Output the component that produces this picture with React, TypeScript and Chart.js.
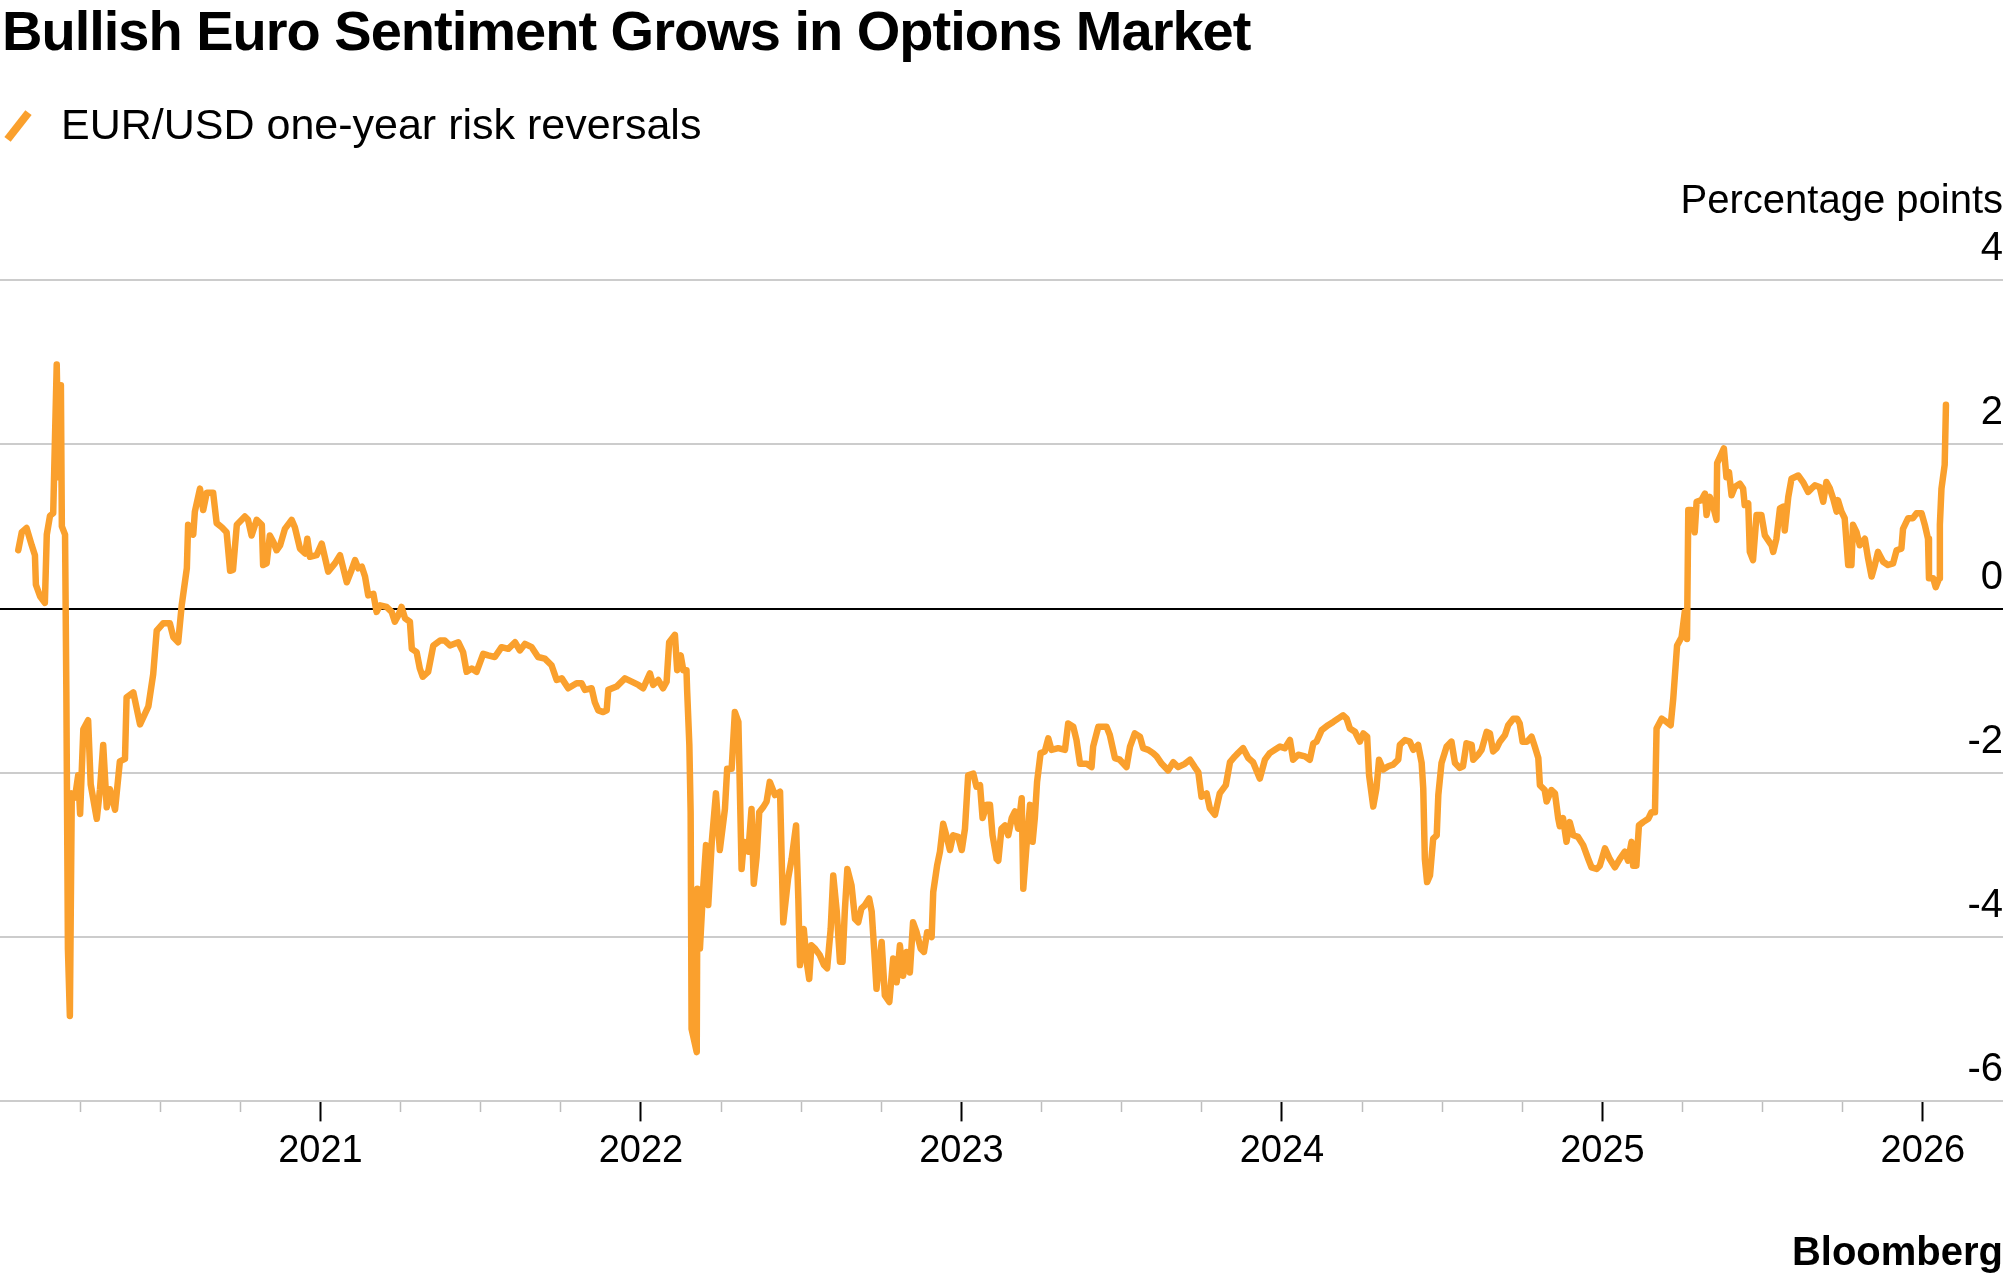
import React, { useEffect, useRef } from 'react';
import { Chart, registerables } from 'chart.js';

Chart.register(...registerables);

const TITLE = 'Bullish Euro Sentiment Grows in Options Market';
const SERIES_LABEL = 'EUR/USD one-year risk reversals';
const UNIT_LABEL = 'Percentage points';
const SOURCE = 'Bloomberg';

const dates = [
  2020.057, 2020.068, 2020.083, 2020.099, 2020.109, 2020.112, 2020.125, 2020.140, 2020.146, 2020.156,
  2020.166, 2020.177, 2020.183, 2020.190, 2020.193, 2020.203, 2020.207, 2020.212, 2020.218, 2020.224,
  2020.234, 2020.244, 2020.250, 2020.260, 2020.275, 2020.283, 2020.302, 2020.312, 2020.322, 2020.333,
  2020.343, 2020.359, 2020.374, 2020.390, 2020.395, 2020.416, 2020.437, 2020.463, 2020.478, 2020.489,
  2020.509, 2020.530, 2020.541, 2020.556, 2020.567, 2020.583, 2020.587, 2020.603, 2020.608, 2020.624,
  2020.634, 2020.645, 2020.665, 2020.676, 2020.692, 2020.707, 2020.718, 2020.727, 2020.739, 2020.764,
  2020.774, 2020.785, 2020.801, 2020.817, 2020.821, 2020.832, 2020.842, 2020.853, 2020.863, 2020.874,
  2020.889, 2020.910, 2020.920, 2020.936, 2020.952, 2020.959, 2020.967, 2020.988, 2021.004, 2021.024,
  2021.045, 2021.061, 2021.082, 2021.097, 2021.108, 2021.118, 2021.129, 2021.139, 2021.149, 2021.165,
  2021.175, 2021.186, 2021.206, 2021.222, 2021.232, 2021.243, 2021.253, 2021.264, 2021.279, 2021.285,
  2021.300, 2021.310, 2021.319, 2021.336, 2021.352, 2021.373, 2021.388, 2021.404, 2021.430, 2021.445,
  2021.456, 2021.472, 2021.487, 2021.508, 2021.523, 2021.544, 2021.565, 2021.586, 2021.607, 2021.622,
  2021.638, 2021.659, 2021.679, 2021.700, 2021.721, 2021.737, 2021.753, 2021.773, 2021.799, 2021.815,
  2021.825, 2021.846, 2021.856, 2021.867, 2021.882, 2021.893, 2021.898, 2021.924, 2021.950, 2021.971,
  2021.992, 2022.007, 2022.028, 2022.038, 2022.054, 2022.069, 2022.080, 2022.088, 2022.106, 2022.113,
  2022.124, 2022.132, 2022.142, 2022.144, 2022.151, 2022.155, 2022.158, 2022.174, 2022.176, 2022.184,
  2022.194, 2022.203, 2022.210, 2022.221, 2022.234, 2022.246, 2022.262, 2022.269, 2022.283, 2022.293,
  2022.304, 2022.314, 2022.321, 2022.335, 2022.345, 2022.352, 2022.361, 2022.369, 2022.381, 2022.392,
  2022.402, 2022.418, 2022.434, 2022.444, 2022.459, 2022.470, 2022.484, 2022.491, 2022.496, 2022.508,
  2022.517, 2022.525, 2022.532, 2022.543, 2022.558, 2022.571, 2022.581, 2022.592, 2022.600, 2022.611,
  2022.621, 2022.629, 2022.636, 2022.644, 2022.657, 2022.668, 2022.678, 2022.688, 2022.699, 2022.712,
  2022.720, 2022.730, 2022.735, 2022.751, 2022.761, 2022.775, 2022.787, 2022.798, 2022.808, 2022.818,
  2022.829, 2022.839, 2022.849, 2022.860, 2022.873, 2022.883, 2022.893, 2022.907, 2022.912, 2022.924,
  2022.933, 2022.943, 2022.954, 2022.964, 2022.974, 2022.990, 2023.001, 2023.011, 2023.021, 2023.037,
  2023.047, 2023.058, 2023.066, 2023.079, 2023.089, 2023.097, 2023.110, 2023.115, 2023.125, 2023.136,
  2023.146, 2023.157, 2023.167, 2023.177, 2023.188, 2023.193, 2023.203, 2023.214, 2023.222, 2023.229,
  2023.236, 2023.247, 2023.260, 2023.271, 2023.281, 2023.302, 2023.323, 2023.333, 2023.349, 2023.359,
  2023.370, 2023.391, 2023.406, 2023.411, 2023.427, 2023.453, 2023.463, 2023.479, 2023.494, 2023.515,
  2023.526, 2023.541, 2023.557, 2023.567, 2023.583, 2023.598, 2023.609, 2023.625, 2023.645, 2023.661,
  2023.676, 2023.697, 2023.713, 2023.728, 2023.739, 2023.749, 2023.765, 2023.775, 2023.791, 2023.806,
  2023.825, 2023.838, 2023.853, 2023.863, 2023.879, 2023.895, 2023.910, 2023.931, 2023.947, 2023.962,
  2023.978, 2023.994, 2024.009, 2024.025, 2024.035, 2024.051, 2024.072, 2024.087, 2024.098, 2024.108,
  2024.124, 2024.144, 2024.160, 2024.175, 2024.191, 2024.202, 2024.212, 2024.228, 2024.243, 2024.254,
  2024.266, 2024.272, 2024.285, 2024.295, 2024.303, 2024.316, 2024.332, 2024.347, 2024.363, 2024.368,
  2024.384, 2024.399, 2024.410, 2024.425, 2024.436, 2024.441, 2024.446, 2024.453, 2024.462, 2024.472,
  2024.483, 2024.488, 2024.498, 2024.514, 2024.529, 2024.540, 2024.555, 2024.565, 2024.576, 2024.592,
  2024.597, 2024.612, 2024.623, 2024.639, 2024.649, 2024.659, 2024.670, 2024.680, 2024.696, 2024.706,
  2024.722, 2024.734, 2024.742, 2024.751, 2024.765, 2024.779, 2024.789, 2024.800, 2024.805, 2024.820,
  2024.826, 2024.841, 2024.852, 2024.862, 2024.867, 2024.877, 2024.888, 2024.898, 2024.909, 2024.924,
  2024.940, 2024.956, 2024.966, 2024.982, 2024.992, 2025.008, 2025.023, 2025.039, 2025.054, 2025.070,
  2025.080, 2025.091, 2025.096, 2025.106, 2025.114, 2025.127, 2025.143, 2025.153, 2025.164, 2025.169,
  2025.185, 2025.200, 2025.213, 2025.221, 2025.233, 2025.247, 2025.257, 2025.264, 2025.268, 2025.278,
  2025.288, 2025.294, 2025.309, 2025.320, 2025.325, 2025.335, 2025.346, 2025.356, 2025.358, 2025.372,
  2025.379, 2025.387, 2025.395, 2025.403, 2025.413, 2025.429, 2025.439, 2025.444, 2025.455, 2025.460,
  2025.470, 2025.481, 2025.496, 2025.507, 2025.528, 2025.533, 2025.543, 2025.554, 2025.564, 2025.569,
  2025.580, 2025.590, 2025.611, 2025.626, 2025.642, 2025.652, 2025.663, 2025.678, 2025.689, 2025.699,
  2025.710, 2025.720, 2025.731, 2025.735, 2025.746, 2025.756, 2025.767, 2025.777, 2025.782, 2025.793,
  2025.803, 2025.819, 2025.829, 2025.840, 2025.850, 2025.860, 2025.876, 2025.891, 2025.907, 2025.918,
  2025.933, 2025.938, 2025.954, 2025.969, 2025.980, 2025.996, 2026.006, 2026.016, 2026.019, 2026.032,
  2026.040, 2026.051, 2026.053, 2026.058, 2026.068, 2026.072,
];

// EUR/USD one-year 25-delta risk reversals, percentage points
const riskReversals = [
  0.71, 0.93, 0.98, 0.77, 0.65, 0.29, 0.15, 0.07, 0.90, 1.13,
  1.16, 2.97, 1.60, 2.72, 1.00, 0.90, -1.00, -4.15, -4.96, -2.25,
  -2.30, -2.03, -2.50, -1.47, -1.36, -2.14, -2.56, -2.20, -1.66, -2.42,
  -2.20, -2.45, -1.86, -1.83, -1.08, -1.02, -1.41, -1.19, -0.80, -0.27,
  -0.18, -0.18, -0.35, -0.41, 0.04, 0.49, 1.02, 0.90, 1.18, 1.46,
  1.20, 1.41, 1.41, 1.04, 0.99, 0.93, 0.46, 0.47, 1.02, 1.12,
  1.08, 0.89, 1.08, 1.02, 0.53, 0.55, 0.89, 0.81, 0.71, 0.77,
  0.97, 1.08, 0.99, 0.73, 0.67, 0.85, 0.63, 0.65, 0.79, 0.45,
  0.55, 0.65, 0.32, 0.47, 0.59, 0.49, 0.51, 0.39, 0.16, 0.18,
  -0.04, 0.04, 0.02, -0.04, -0.16, -0.08, 0.02, -0.12, -0.16, -0.49,
  -0.53, -0.73, -0.83, -0.77, -0.45, -0.39, -0.39, -0.45, -0.41, -0.53,
  -0.77, -0.73, -0.77, -0.55, -0.57, -0.59, -0.47, -0.49, -0.41, -0.51,
  -0.43, -0.47, -0.59, -0.61, -0.69, -0.87, -0.85, -0.97, -0.91, -0.91,
  -0.99, -0.97, -1.14, -1.24, -1.26, -1.24, -0.99, -0.95, -0.85, -0.89,
  -0.93, -0.97, -0.79, -0.93, -0.87, -0.97, -0.89, -0.41, -0.32, -0.75,
  -0.57, -0.75, -0.75, -0.99, -1.66, -2.48, -5.12, -5.40, -3.41, -4.14,
  -3.41, -2.88, -3.61, -2.84, -2.25, -2.94, -2.44, -1.95, -1.95, -1.26,
  -1.38, -3.17, -2.84, -2.96, -2.44, -3.35, -3.02, -2.48, -2.42, -2.35,
  -2.11, -2.27, -2.23, -3.82, -3.29, -3.05, -2.64, -3.53, -4.34, -3.90,
  -4.30, -4.51, -4.10, -4.14, -4.22, -4.34, -4.38, -3.90, -3.25, -3.69,
  -4.30, -4.30, -3.69, -3.17, -3.37, -3.78, -3.82, -3.65, -3.61, -3.53,
  -3.69, -4.30, -4.63, -4.06, -4.71, -4.79, -4.26, -4.55, -4.10, -4.47,
  -4.18, -4.43, -3.82, -3.94, -4.14, -4.18, -3.94, -4.00, -3.45, -3.13,
  -2.96, -2.62, -2.78, -2.94, -2.76, -2.78, -2.94, -2.68, -2.03, -2.01,
  -2.17, -2.15, -2.55, -2.39, -2.39, -2.76, -3.05, -3.07, -2.68, -2.64,
  -2.76, -2.55, -2.47, -2.68, -2.31, -3.41, -2.89, -2.39, -2.84, -2.55,
  -2.11, -1.76, -1.74, -1.58, -1.72, -1.70, -1.72, -1.40, -1.44, -1.60,
  -1.89, -1.89, -1.93, -1.68, -1.44, -1.44, -1.54, -1.82, -1.84, -1.93,
  -1.68, -1.52, -1.56, -1.70, -1.72, -1.76, -1.80, -1.89, -1.97, -1.87,
  -1.93, -1.89, -1.84, -1.93, -1.99, -2.29, -2.25, -2.43, -2.51, -2.25,
  -2.15, -1.87, -1.80, -1.76, -1.70, -1.82, -1.87, -2.07, -1.84, -1.76,
  -1.72, -1.68, -1.70, -1.60, -1.84, -1.78, -1.80, -1.84, -1.64, -1.62,
  -1.48, -1.42, -1.38, -1.34, -1.30, -1.34, -1.46, -1.50, -1.62, -1.52,
  -1.56, -2.03, -2.41, -2.19, -1.84, -1.96, -1.92, -1.90, -1.84, -1.66,
  -1.60, -1.62, -1.72, -1.66, -1.88, -2.19, -3.05, -3.33, -3.25, -2.80,
  -2.76, -2.27, -1.88, -1.68, -1.62, -1.88, -1.94, -1.92, -1.64, -1.66,
  -1.84, -1.78, -1.72, -1.50, -1.52, -1.74, -1.70, -1.62, -1.54, -1.42,
  -1.34, -1.34, -1.40, -1.62, -1.62, -1.56, -1.68, -1.82, -2.15, -2.21,
  -2.35, -2.21, -2.25, -2.55, -2.65, -2.55, -2.84, -2.60, -2.76, -2.78,
  -2.88, -3.05, -3.15, -3.17, -3.13, -2.92, -3.05, -3.15, -3.05, -2.96,
  -3.07, -2.84, -3.13, -3.13, -2.64, -2.60, -2.56, -2.48, -2.48, -1.46,
  -1.34, -1.38, -1.42, -1.10, -0.45, -0.35, -0.04, -0.37, 1.20, 1.20,
  0.93, 1.30, 1.32, 1.40, 1.14, 1.36, 1.24, 1.08, 1.77, 1.89,
  1.95, 1.60, 1.66, 1.38, 1.48, 1.52, 1.46, 1.26, 1.28, 0.69,
  0.59, 1.14, 1.14, 0.89, 0.77, 0.69, 0.85, 1.22, 1.24, 0.95,
  1.36, 1.58, 1.62, 1.54, 1.42, 1.46, 1.50, 1.48, 1.30, 1.54,
  1.46, 1.34, 1.18, 1.32, 1.18, 1.10, 0.53, 0.53, 1.02, 0.93,
  0.77, 0.85, 0.61, 0.39, 0.53, 0.69, 0.57, 0.53, 0.55, 0.71,
  0.73, 0.97, 1.10, 1.10, 1.16, 1.16, 1.02, 0.85, 0.37, 0.37,
  0.26, 0.37, 1.02, 1.46, 1.75, 2.48,
];

const yearTicks = [2021, 2022, 2023, 2024, 2025, 2026];
const quarterTicks = [
  2020.25, 2020.5, 2020.75, 2021, 2021.25, 2021.5, 2021.75, 2022, 2022.25, 2022.5, 2022.75,
  2023, 2023.25, 2023.5, 2023.75, 2024, 2024.25, 2024.5, 2024.75, 2025, 2025.25, 2025.5, 2025.75, 2026,
];
const X_MIN = 2020;
const X_MAX = 2026.25;
const Y_MIN = -6;
const Y_MAX = 4;
const Y_STEP = 2;

const ORANGE = '#FAA02D';
const FONT = "'Liberation Sans', Arial, Helvetica, sans-serif";

const isMajor = (ctx: any) => !!ctx.tick && yearTicks.includes(ctx.tick.value);

export default function App() {
  const canvasRef = useRef<HTMLCanvasElement>(null);

  useEffect(() => {
    const canvas = canvasRef.current;
    if (!canvas) return;
    const chart = new Chart(canvas, {
      type: 'line',
      data: {
        datasets: [
          {
            label: SERIES_LABEL,
            data: dates.map((x, i) => ({ x, y: riskReversals[i] })),
            borderColor: ORANGE,
            backgroundColor: ORANGE,
            borderWidth: 6.5,
            pointRadius: 0,
            tension: 0,
            fill: false,
            borderJoinStyle: 'round',
            borderCapStyle: 'round',
          },
        ],
      },
      options: {
        responsive: false,
        maintainAspectRatio: false,
        animation: false,
        devicePixelRatio: 1,
        layout: { padding: { top: 280, right: 2, bottom: 100, left: 0 } },
        plugins: {
          legend: { display: false },
          tooltip: { enabled: false },
          title: { display: false },
        },
        scales: {
          x: {
            type: 'linear',
            min: X_MIN,
            max: X_MAX,
            afterBuildTicks: (scale: any) => {
              scale.ticks = quarterTicks.map((v) => ({ value: v }));
            },
            ticks: {
              autoSkip: false,
              maxRotation: 0,
              minRotation: 0,
              padding: 7,
              color: '#000',
              font: { family: FONT, size: 38 },
              callback: (value: any) => (yearTicks.includes(Number(value)) ? String(value) : ''),
            },
            grid: {
              drawOnChartArea: false,
              drawTicks: true,
              tickLength: 20,
              tickColor: (ctx: any) => (isMajor(ctx) ? '#000000' : '#bdbdbd'),
              tickWidth: (ctx: any) => (isMajor(ctx) ? 2 : 1.5),
              tickBorderDash: (ctx: any) => (isMajor(ctx) ? [] : [11, 40]),
            } as any,
            border: { display: false },
          },
          y: {
            position: 'right',
            min: Y_MIN,
            max: Y_MAX,
            ticks: {
              stepSize: Y_STEP,
              mirror: true,
              padding: 0,
              labelOffset: -31,
              color: '#000',
              font: { family: FONT, size: 40 },
            },
            grid: {
              color: (ctx: any) => (ctx.tick && ctx.tick.value === 0 ? '#000000' : '#cccccc'),
              lineWidth: 2,
              drawTicks: false,
            },
            border: { display: false },
          },
        },
      } as any,
    });
    return () => chart.destroy();
  }, []);

  const text: React.CSSProperties = {
    position: 'absolute',
    whiteSpace: 'nowrap',
    color: '#000',
    fontFamily: FONT,
    margin: 0,
  };

  return (
    <div
      style={{
        position: 'absolute',
        left: 0,
        top: 0,
        width: 2005,
        height: 1281,
        background: '#fff',
        overflow: 'hidden',
      }}
    >
      <canvas ref={canvasRef} width={2005} height={1281} style={{ position: 'absolute', left: 0, top: 0, display: 'block' }} />
      <div style={{ ...text, left: 2, top: 3, fontSize: 56, lineHeight: '56px', fontWeight: 700, letterSpacing: '-1px' }}>{TITLE}</div>
      <div
        style={{
          position: 'absolute',
          left: 1,
          top: 122,
          width: 34,
          height: 8,
          background: ORANGE,
          transform: 'rotate(-52deg)',
        }}
      />
      <div style={{ ...text, left: 61, top: 103, fontSize: 43, lineHeight: '43px' }}>{SERIES_LABEL}</div>
      <div style={{ ...text, right: 2, top: 179, fontSize: 40, lineHeight: '40px' }}>{UNIT_LABEL}</div>
      <div style={{ ...text, right: 2, top: 1231, fontSize: 40, lineHeight: '40px', fontWeight: 700 }}>{SOURCE}</div>
    </div>
  );
}
